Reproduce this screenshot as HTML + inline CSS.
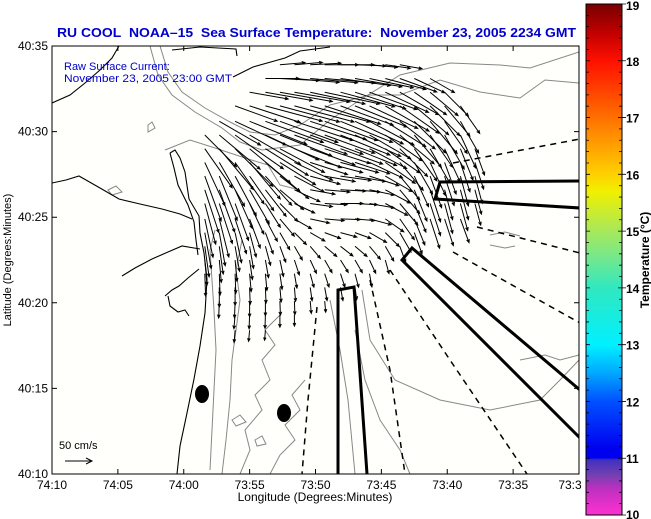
<!DOCTYPE html>
<html><head><meta charset="utf-8"><title>RU COOL SST</title>
<style>
html,body{margin:0;padding:0;background:#fff;}
svg{display:block;font-family:"Liberation Sans",Arial,sans-serif;}
</style></head>
<body>
<svg id="chart" width="651" height="519" viewBox="0 0 651 519" xmlns="http://www.w3.org/2000/svg">
<defs>
<linearGradient id="cbar" x1="0" y1="0" x2="0" y2="1">
<stop offset="0" stop-color="#780000"/>
<stop offset="0.056" stop-color="#c00000"/>
<stop offset="0.111" stop-color="#ff1000"/>
<stop offset="0.167" stop-color="#ff4000"/>
<stop offset="0.222" stop-color="#ff7000"/>
<stop offset="0.278" stop-color="#ffa000"/>
<stop offset="0.333" stop-color="#ffd000"/>
<stop offset="0.367" stop-color="#f0f000"/>
<stop offset="0.444" stop-color="#a8e85a"/>
<stop offset="0.5" stop-color="#70e890"/>
<stop offset="0.556" stop-color="#30e8c0"/>
<stop offset="0.667" stop-color="#00f0ff"/>
<stop offset="0.722" stop-color="#00a8ff"/>
<stop offset="0.778" stop-color="#0050ff"/>
<stop offset="0.87" stop-color="#0000f0"/>
<stop offset="0.888" stop-color="#0000f0"/>
<stop offset="0.892" stop-color="#4030c0"/>
<stop offset="0.92" stop-color="#7040b0"/>
<stop offset="0.95" stop-color="#c030c0"/>
<stop offset="1" stop-color="#ff30d0"/>
</linearGradient>
<clipPath id="plotclip"><rect x="52" y="46" width="527" height="428"/></clipPath>
</defs>

<text x="57" y="37" font-size="13" font-weight="bold" fill="#0000cc" textLength="519" lengthAdjust="spacingAndGlyphs">RU COOL&#160; NOAA–15&#160; Sea Surface Temperature:&#160; November 23, 2005 2234 GMT</text>

<rect x="52" y="46" width="527" height="428" fill="#fffffb"/>

<g clip-path="url(#plotclip)">
<g fill="none" stroke="#888" stroke-width="1">
<path d="M150,46 L158,75 L172,95 L195,112 L222,128 L240,142 L262,150 L300,145 L330,120 L360,100 L400,75 L450,63 L500,65 L530,68 L579,52"/>
<path d="M160,46 L168,72 L182,92 L205,108 L230,122 L250,132 L275,135 L300,125 L330,105 L370,95 L400,95 L440,80 L480,92 L520,98 L545,80 L579,83"/>
<path d="M165,150 L190,140 L215,148 L245,158 L268,165 L280,185 L300,190"/>
<path d="M210,470 L212,430 L214,390 L216,350 L214,310 L212,280 L210,250 L215,230"/>
<path d="M222,474 L226,440 L230,400 L232,360 L236,330 L240,300 L236,270 L242,240"/>
<path d="M240,474 L250,450 L245,430 L262,410 L255,395 L270,380 L262,360 L275,345 L265,330 L280,315"/>
<path d="M270,474 L280,455 L295,440 L285,425 L300,410 L292,395 L305,380"/>
<path d="M330,300 L340,350 L348,400 L355,474"/>
<path d="M355,330 L365,380 L380,420 L400,450 L410,474"/>
<path d="M362,290 L370,340 L395,380 L440,400 L490,410 L540,400 L560,380 L579,360"/>
<path d="M520,360 L545,355 L560,360 L579,355"/>
<path d="M490,235 L505,232 L520,236"/>
<path d="M490,245 L505,248 L515,246"/>
<path d="M148,125 L152,122 L155,128 L148,132 Z"/>
<path d="M108,190 L116,186 L122,192 L112,195 Z"/>
<path d="M232,420 L240,415 L246,422 L236,426 Z"/>
<path d="M255,440 L262,436 L266,444 L257,446 Z"/>
</g>
<g fill="none" stroke="#000" stroke-width="1.1">
<path d="M52,103 L70,95 L85,83 L100,70 L112,58 L119,46"/>
<path d="M172,50 L200,47 L236,49 L237,56"/>
<path d="M233,77 L253,67 L285,58 L300,51 L330,47"/>
<path d="M52,183 L66,180 L79,176 L100,188 L119,199 L140,204 L162,209 L180,214 L192,219"/>
<path d="M170,153 L175,150 L180,158 L185,172 L189,199 L199,216 L200,233 L204,253 L207,279 L205,313 L200,346 L194,379 L187,413 L180,446 L177,474"/>
<path d="M170,153 L174,168 L178,185 L188,205 L194,222 L196,240 L198,255"/>
<path d="M122,276 L135,268 L152,259 L168,252 L182,246 L200,249"/>
<path d="M165,296 L172,290 L179,286 L188,278 L199,269"/>
<path d="M168,296 L170,306 L178,312 L185,310 L189,316"/>
</g>

<g fill="none" stroke="#000" stroke-width="1.5" stroke-dasharray="6,5">
<path d="M453,163 L580,139"/>
<path d="M477,227 L580,253"/>
<path d="M453,252 L580,323"/>
<path d="M390,270 L450,360 L527,474"/>
<path d="M370,280 L390,370 L405,474"/>
<path d="M317,307 L308,400 L302,474"/>
</g>
<g fill="none" stroke="#000" stroke-width="3">
<path d="M338,474 L338,290 L354,287 L367,474"/>
<path d="M580,390 L412,248 L402,260 L580,438"/>
<path d="M580,181 L440,182 L435,199 L580,208"/>
</g>

<ellipse cx="202" cy="394" rx="7" ry="9" fill="#000"/>
<ellipse cx="284" cy="413" rx="7" ry="9" fill="#000"/>

<g id="arrows" fill="none" stroke="#000" stroke-width="1"></g>
</g>

<text x="64" y="70" font-size="11" fill="#0000cc">Raw Surface Current:</text>
<text x="64" y="82" font-size="11" fill="#0000cc" textLength="168" lengthAdjust="spacingAndGlyphs">November 23, 2005 23:00 GMT</text>

<text x="59" y="449" font-size="11" fill="#000">50 cm/s</text>
<g stroke="#000" fill="none" stroke-width="1">
<path d="M65,461 L92,461 M86,458 L92,461 L86,464"/>
</g>

<rect x="52" y="46" width="527" height="428" fill="none" stroke="#000" stroke-width="1"/>
<g id="axes"></g>

<text transform="translate(11,260) rotate(-90)" text-anchor="middle" font-size="11" fill="#000">Latitude (Degrees:Minutes)</text>
<text x="315" y="501" text-anchor="middle" font-size="12" fill="#000">Longitude (Degrees:Minutes)</text>

<rect x="586" y="4" width="36" height="511" fill="url(#cbar)" stroke="#000" stroke-width="1"/>
<g id="cbticks"></g>
<text transform="translate(649,260) rotate(-90)" text-anchor="middle" font-size="12" font-weight="bold" fill="#000">Temperature (°C)</text>
</svg>

<script>
// ---- axis data ----
const lonTickLabels = ["74:10","74:05","74:00","73:55","73:50","73:45","73:40","73:35","73:3"];
const lonTickMinutes = [0,5,10,15,20,25,30,35,40];
const latTickLabels = ["40:10","40:15","40:20","40:25","40:30","40:35"];
const latTickMinutes = [0,5,10,15,20,25];
const cbTickValues = [10,11,12,13,14,15,16,17,18,19];

// ---- current vector grid (lon/lat in minutes from 74:10 W / 40:10 N) ----
const gridLon = [11.6,12.7,13.9,15.0,16.2,17.3,18.4,19.6,20.7,21.9,23.0,24.1,25.3,26.4,27.5,28.7,29.8,31.0,32.1];
const gridLat = [23.9,23.1,22.3,21.5,20.6,19.8,19.0,18.2,17.4,16.6,15.8,14.9,14.1,13.3,12.5,11.7,10.9,10.1,9.3,8.4];
const speedRows = [
[0,0,0,0,0,45,50,55,60,60,55,50,45,40,0,0,0,0,0],
[0,0,0,0,60,70,80,85,90,90,85,80,75,70,60,50,0,0,0],
[0,0,0,70,85,95,100,100,100,100,95,90,85,80,70,65,60,0,0],
[0,0,80,95,105,110,110,110,105,100,100,95,90,85,80,75,70,60,0],
[0,85,100,110,110,110,110,105,100,100,95,90,85,80,80,75,70,65,0],
[80,95,105,105,105,100,100,100,95,95,90,85,80,80,75,70,70,65,0],
[85,95,95,95,90,90,90,85,85,80,80,75,75,70,70,70,65,60,50],
[85,90,90,85,80,75,75,70,70,70,65,65,65,65,65,65,60,55,50],
[85,85,80,75,70,65,60,55,55,55,55,55,55,55,60,60,55,55,50],
[80,80,75,70,60,55,50,45,45,45,45,45,50,55,60,60,55,55,45],
[75,75,70,60,50,45,40,40,40,40,40,45,45,50,55,60,55,50,40],
[70,70,65,55,45,40,35,35,35,35,35,40,40,45,50,55,50,45,0],
[65,60,55,45,40,35,30,30,30,30,30,35,35,40,40,0,0,0,0],
[55,50,45,40,35,30,28,28,28,28,28,30,30,30,0,0,0,0,0],
[45,40,38,35,32,30,28,26,26,26,26,26,25,0,0,0,0,0,0],
[40,38,35,32,30,28,26,25,25,25,25,24,0,0,0,0,0,0,0],
[0,35,32,30,28,26,25,24,24,24,22,0,0,0,0,0,0,0,0],
[0,30,30,28,26,25,24,22,20,0,0,0,0,0,0,0,0,0,0],
[0,0,25,25,24,22,20,0,0,0,0,0,0,0,0,0,0,0,0],
[0,0,22,20,18,0,0,0,0,0,0,0,0,0,0,0,0,0,0]
];
const dirRows = [
[0,0,0,0,0,-5,-5,-3,0,0,2,5,8,10,0,0,0,0,0],
[0,0,0,0,0,3,5,5,5,8,10,12,15,20,25,30,0,0,0],
[0,0,0,10,10,10,10,12,12,15,18,20,25,30,35,40,45,0,0],
[0,0,20,18,15,15,15,15,18,20,22,25,30,35,40,45,50,55,0],
[0,30,25,22,20,20,18,18,20,22,25,28,32,38,45,50,55,60,0],
[45,40,35,30,25,22,20,20,20,22,25,30,35,40,50,55,60,65,0],
[55,50,45,40,32,28,22,20,18,20,22,28,35,45,55,60,65,68,70],
[65,60,55,50,40,32,25,18,15,15,18,25,35,50,60,65,70,72,72],
[70,68,62,55,48,38,28,15,10,8,10,18,30,50,65,70,72,75,75],
[72,70,66,60,52,40,25,10,5,3,5,12,28,50,68,72,75,75,75],
[75,72,70,65,58,45,25,8,3,0,3,10,28,50,68,72,75,75,75],
[78,76,72,70,62,50,30,12,5,2,5,15,35,55,68,72,72,70,0],
[80,80,78,75,70,60,45,30,20,15,20,30,45,60,70,0,0,0,0],
[82,82,80,80,75,70,60,50,40,38,40,50,60,70,0,0,0,0,0],
[85,85,85,82,80,78,72,65,60,58,60,65,75,0,0,0,0,0,0],
[88,88,88,85,85,82,80,75,72,72,75,80,0,0,0,0,0,0,0],
[0,90,90,88,88,85,85,82,80,80,82,0,0,0,0,0,0,0,0],
[0,92,92,90,90,88,88,85,85,0,0,0,0,0,0,0,0,0,0],
[0,0,95,92,92,90,90,0,0,0,0,0,0,0,0,0,0,0,0],
[0,0,95,95,95,0,0,0,0,0,0,0,0,0,0,0,0,0,0]
];

const NS = "http://www.w3.org/2000/svg";
const X0 = 52, X1 = 579, Y0 = 474, Y1 = 46;
function xScale(lonMin){ return X0 + lonMin * (X1 - X0) / 40; }
function yScale(latMin){ return Y0 - latMin * (Y0 - Y1) / 25; }
function cbScale(v){ return 515 - (v - 10) * (511 / 9); }
const PX_PER_CMS = 0.56;

const ag = document.getElementById('arrows');
for (let r = 0; r < gridLat.length; r++) {
  for (let c = 0; c < gridLon.length; c++) {
    const s = speedRows[r][c];
    if (!s) continue;
    const a = dirRows[r][c] * Math.PI / 180;
    const x = xScale(gridLon[c]), y = yScale(gridLat[r]);
    const L = s * PX_PER_CMS;
    const ex = x + L * Math.cos(a), ey = y + L * Math.sin(a);
    const h = Math.min(3.5, L * 0.3);
    const a1 = a + Math.PI * 0.87, a2 = a - Math.PI * 0.87;
    const p = document.createElementNS(NS, 'path');
    p.setAttribute('d', `M${x.toFixed(1)},${y.toFixed(1)} L${ex.toFixed(1)},${ey.toFixed(1)} M${(ex+h*Math.cos(a1)).toFixed(1)},${(ey+h*Math.sin(a1)).toFixed(1)} L${ex.toFixed(1)},${ey.toFixed(1)} L${(ex+h*Math.cos(a2)).toFixed(1)},${(ey+h*Math.sin(a2)).toFixed(1)}`);
    
    
    ag.appendChild(p);
  }
}

const axg = document.getElementById('axes');
lonTickMinutes.forEach((m, i) => {
  const x = xScale(m);
  const t = document.createElementNS(NS, 'path');
  t.setAttribute('d', `M${x},${Y0} L${x},${Y0-5} M${x},${Y1} L${x},${Y1+5}`);
  t.setAttribute('stroke', '#000');
  
  
  axg.appendChild(t);
  const tx = document.createElementNS(NS, 'text');
  tx.setAttribute('x', i === lonTickLabels.length - 1 ? x - 9 : x);
  tx.setAttribute('y', 489);
  tx.setAttribute('text-anchor', 'middle');
  tx.setAttribute('font-size', '12');
  tx.textContent = lonTickLabels[i];
  
  
  axg.appendChild(tx);
});
latTickMinutes.forEach((m, i) => {
  const y = yScale(m);
  const t = document.createElementNS(NS, 'path');
  t.setAttribute('d', `M${X0},${y} L${X0+5},${y} M${X1},${y} L${X1-5},${y}`);
  t.setAttribute('stroke', '#000');
  
  
  axg.appendChild(t);
  const tx = document.createElementNS(NS, 'text');
  tx.setAttribute('x', 48);
  tx.setAttribute('y', y + 4);
  tx.setAttribute('text-anchor', 'end');
  tx.setAttribute('font-size', '12');
  tx.textContent = latTickLabels[i];
  
  
  axg.appendChild(tx);
});

const cg = document.getElementById('cbticks');
for (let v = 10; v <= 19.001; v += 0.2) {
  const y = cbScale(v);
  const major = Math.abs(v - Math.round(v)) < 0.01;
  const t = document.createElementNS(NS, 'path');
  t.setAttribute('d', major ? `M586,${y} L590,${y} M618,${y} L626,${y}` : `M586,${y} L589,${y} M619,${y} L622,${y}`);
  t.setAttribute('stroke', '#000');
  t.setAttribute('stroke-width', '0.8');
  
  
  cg.appendChild(t);
}
cbTickValues.forEach(v => {
  const tx = document.createElementNS(NS, 'text');
  tx.setAttribute('x', 626);
  tx.setAttribute('y', Math.min(519, Math.max(10, cbScale(v) + 5)));
  tx.setAttribute('font-size', '12');
  tx.setAttribute('font-weight', 'bold');
  tx.textContent = String(v);
  
  
  cg.appendChild(tx);
});
</script>
</body></html>
